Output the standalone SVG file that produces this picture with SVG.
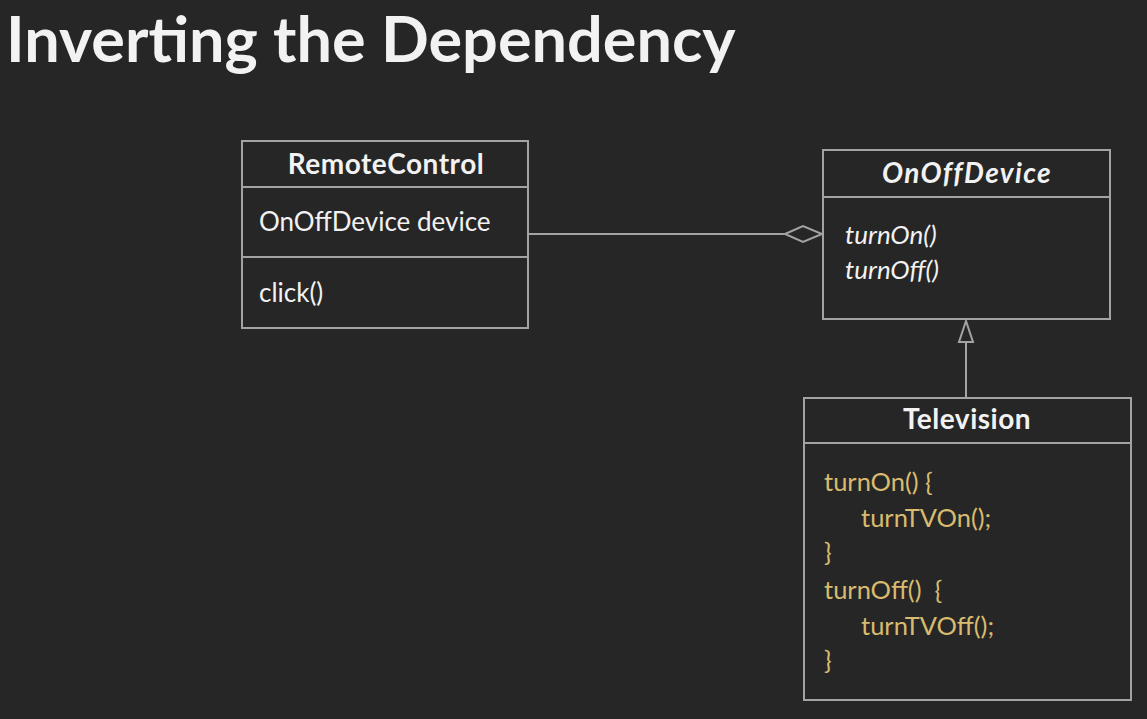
<svg xmlns="http://www.w3.org/2000/svg" width="1147" height="719" viewBox="0 0 1147 719">
<defs>
<style>
.box{fill:#262626;stroke:#a3a3a3;stroke-width:2}
.div{stroke:#a3a3a3;stroke-width:2}
.t{font-family:Lato,"Open Sans",sans-serif;fill:#f2f2f2}
.title{font-size:63px;font-weight:bold}
.name{font-size:28px;font-weight:bold;text-anchor:middle;letter-spacing:0.5px}
.mem{font-size:26px}
.it{font-style:italic}
.code{font-family:Lato,"Open Sans",sans-serif;font-size:25.5px;fill:#d8bb6e}
.conn{stroke:#a3a3a3;stroke-width:2;fill:none}
</style>
</defs>
<rect width="1147" height="719" fill="#262626"/>
<text class="t title" x="6" y="62">Inverting the Dependency</text>
<g id="connectors">
<line class="conn" x1="529" y1="234" x2="785" y2="234"/>
<polygon class="conn" points="785,234 803,226 822,234 803,242" fill="#262626"/>
<line class="conn" x1="966" y1="398" x2="966" y2="342"/>
<polygon class="conn" points="966,321 959,342 973,342" fill="#262626"/>
</g>
<g id="RemoteControl">
<rect class="box" x="242" y="141" width="286" height="187"/>
<line class="div" x1="242" y1="187" x2="528" y2="187"/>
<line class="div" x1="242" y1="257" x2="528" y2="257"/>
<text class="t name" x="386" y="174">RemoteControl</text>
<text class="t mem" x="259" y="231">OnOffDevice device</text>
<text class="t mem" x="259" y="302">click()</text>
</g>
<g id="OnOffDevice">
<rect class="box" x="823" y="150" width="287" height="169"/>
<line class="div" x1="823" y1="197" x2="1110" y2="197"/>
<text class="t name it" x="967" y="183" style="letter-spacing:1.4px">OnOffDevice</text>
<text class="t mem it" x="845" y="244">turnOn()</text>
<text class="t mem it" x="845" y="279">turnOff()</text>
</g>
<g id="Television">
<rect class="box" x="804" y="398" width="327" height="302"/>
<line class="div" x1="804" y1="443" x2="1131" y2="443"/>
<text class="t name" x="967" y="429">Television</text>
<text class="code" x="824" y="491">turnOn() {</text>
<text class="code" x="861" y="527">turnTVOn();</text>
<text class="code" x="824" y="561">}</text>
<text class="code" x="824" y="599" xml:space="preserve">turnOff()  {</text>
<text class="code" x="861" y="635">turnTVOff();</text>
<text class="code" x="824" y="669">}</text>
</g>
</svg>
